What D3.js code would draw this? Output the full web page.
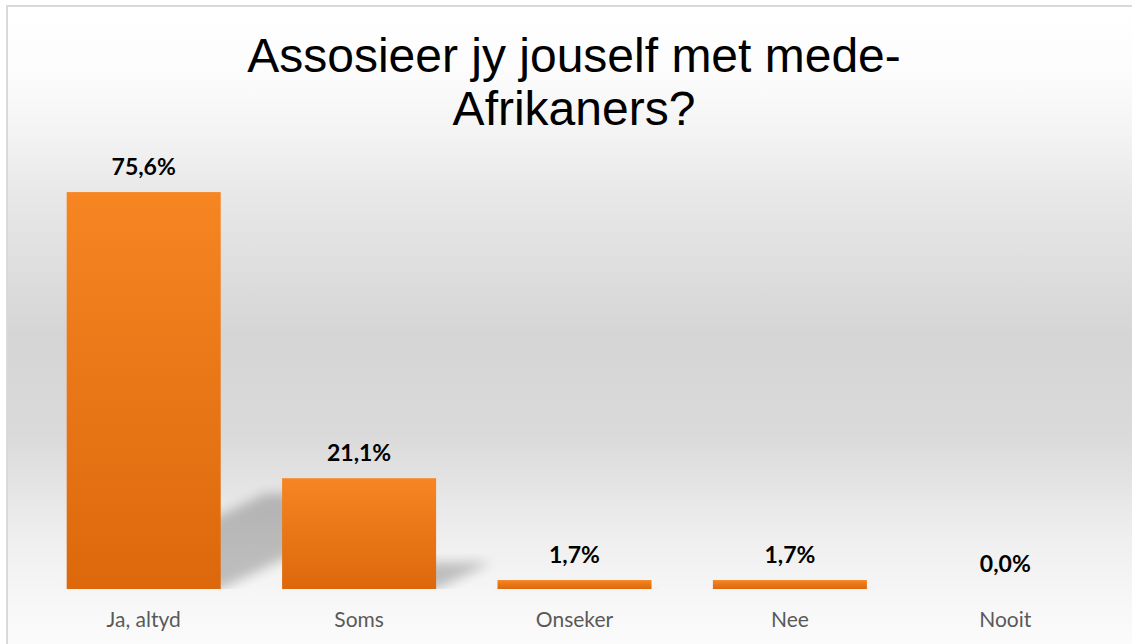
<!DOCTYPE html>
<html>
<head>
<meta charset="utf-8">
<script src="https://cdn.jsdelivr.net/npm/d3@7"></script>
<style>
  html, body { margin: 0; padding: 0; background: #fff; }
  svg { display: block; }
</style>
</head>
<body>
<div id="chart"></div>
<script>
const titleLines = ["Assosieer jy jouself met mede-", "Afrikaners?"];
const categories = ["Ja, altyd", "Soms", "Onseker", "Nee", "Nooit"];
const values = [75.6, 21.1, 1.7, 1.7, 0.0];

const width = 1132, height = 644;
const baseY = 589;

const svg = d3.select("#chart").append("svg")
  .attr("width", width).attr("height", height);

const defs = svg.append("defs");

// agtergrond gradient
const bg = defs.append("linearGradient").attr("id", "bgGrad")
  .attr("x1", 0).attr("y1", 0).attr("x2", 0).attr("y2", 1);
[[0, "#ffffff"], [0.1, "#fcfcfc"], [0.2, "#f3f3f3"], [0.29, "#e8e8e8"],
 [0.51, "#d5d5d5"], [0.66, "#dadada"], [0.82, "#efefef"], [0.93, "#f8f8f8"], [1, "#fcfcfc"]]
  .forEach(s => bg.append("stop").attr("offset", s[0]).attr("stop-color", s[1]));

const barGrad = defs.append("linearGradient").attr("id", "barGrad")
  .attr("x1", 0).attr("y1", 0).attr("x2", 0).attr("y2", 1);
barGrad.append("stop").attr("offset", 0).attr("stop-color", "#f68522");
barGrad.append("stop").attr("offset", 1).attr("stop-color", "#dc680b");

defs.append("filter").attr("id", "blur")
  .attr("x", "-30%").attr("y", "-30%").attr("width", "160%").attr("height", "160%")
  .append("feGaussianBlur").attr("stdDeviation", 6);

defs.append("clipPath").attr("id", "plotClip")
  .append("rect").attr("x", 0).attr("y", 0).attr("width", width).attr("height", baseY);

svg.append("rect")
  .attr("x", 7).attr("y", 6).attr("width", 1140).attr("height", 650)
  .attr("fill", "url(#bgGrad)")
  .attr("stroke", "#d9d9d9").attr("stroke-width", 2);

// titel
svg.append("text")
  .attr("x", 574).attr("y", 72)
  .attr("text-anchor", "middle")
  .style("font-family", "'Liberation Sans', Arial, sans-serif")
  .style("font-size", "48px")
  .attr("fill", "#000")
  .selectAll("tspan").data(titleLines).join("tspan")
  .attr("x", 574)
  .attr("dy", (d, i) => i === 0 ? 0 : 53)
  .text(d => d);

const x = d3.scaleBand().domain(categories).range([36, 1113])
  .paddingInner(0.285).paddingOuter(0.1425);
const y = d3.scaleLinear().domain([0, 80]).range([baseY, 169]);

const data = categories.map((c, i) => ({ cat: c, val: values[i] }));

// skaduwees
svg.append("g").attr("clip-path", "url(#plotClip)")
  .selectAll("path").data(data.filter(d => d.val > 0)).join("path")
  .attr("d", d => {
    const x0 = x(d.cat), x1 = x0 + x.bandwidth();
    const h = baseY - y(d.val);
    const dx = h * 0.5, dy = h * 0.24;
    return `M${x0},${baseY}L${x1},${baseY}L${x1 + dx},${baseY - dy}L${x0 + dx},${baseY - dy}Z`;
  })
  .attr("fill", "#000").attr("opacity", 0.22)
  .attr("filter", "url(#blur)");

svg.append("g").selectAll("rect").data(data).join("rect")
  .attr("x", d => x(d.cat))
  .attr("y", d => y(d.val))
  .attr("width", x.bandwidth())
  .attr("height", d => baseY - y(d.val))
  .attr("fill", "url(#barGrad)");

const fmt = d3.formatLocale({ decimal: ",", thousands: ".", grouping: [3], currency: ["", ""] }).format(".1f");

svg.append("g").selectAll("text").data(data).join("text")
  .attr("x", d => x(d.cat) + x.bandwidth() / 2)
  .attr("y", d => y(d.val) - 17)
  .attr("text-anchor", "middle")
  .style("font-family", "Lato, 'Open Sans', sans-serif")
  .style("font-weight", "bold")
  .style("font-size", "23px")
  .attr("fill", "#000")
  .text(d => fmt(d.val) + "%");

const xAxis = svg.append("g").attr("transform", `translate(0,${baseY})`)
  .call(d3.axisBottom(x).tickSize(0).tickPadding(23));
xAxis.select(".domain").remove();
xAxis.selectAll("text")
  .style("font-family", "Lato, 'Open Sans', sans-serif")
  .style("font-size", "21px")
  .attr("fill", "#595959");
</script>
</body>
</html>
